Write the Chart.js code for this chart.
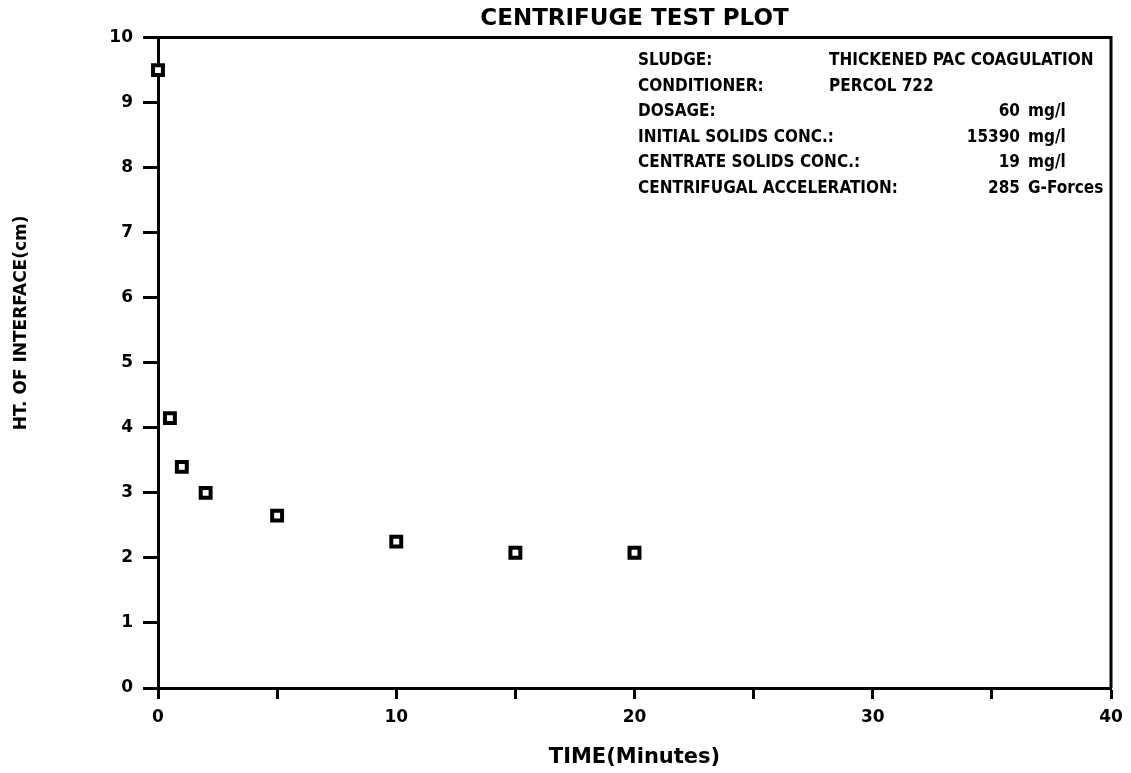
<!DOCTYPE html>
<html>
<head>
<meta charset="utf-8">
<title>Centrifuge Test Plot</title>
<script src="https://cdn.jsdelivr.net/npm/chart.js@4/dist/chart.umd.min.js"></script>
<style>
  html, body { margin: 0; padding: 0; background: #fff; }
  canvas { display: block; }
</style>
</head>
<body>
<canvas id="centrifugeChart" width="1131" height="773"></canvas>
<script>
// Interface height readings over spin time
const timeMinutes = [0, 0.5, 1, 2, 5, 10, 15, 20];
const interfaceHeight = [9.5, 4.15, 3.4, 3.0, 2.65, 2.25, 2.08, 2.08];

// Run conditions printed in the upper right
const infoLabels = ['SLUDGE:', 'CONDITIONER:', 'DOSAGE:', 'INITIAL SOLIDS CONC.:', 'CENTRATE SOLIDS CONC.:', 'CENTRIFUGAL ACCELERATION:'];
const infoText = ['THICKENED PAC COAGULATION', 'PERCOL 722', '', '', '', ''];
const infoNumbers = ['', '', '60', '15390', '19', '285'];
const infoUnits = ['', '', 'mg/l', 'mg/l', 'mg/l', 'G-Forces'];

const yAxisTitle = 'HT. OF INTERFACE(cm)';

const boldFont = "'DejaVu Sans', Verdana, sans-serif";
const narrowFont = "'DejaVu Sans Condensed', 'Liberation Sans Narrow', sans-serif";

Chart.defaults.color = '#000';

// Top and right edges of the plot box, run-condition block and y label
const plotDecor = {
  id: 'plotDecor',
  afterDraw(chart) {
    const { ctx, chartArea } = chart;
    const { left, right, top, bottom } = chartArea;
    ctx.save();
    ctx.strokeStyle = '#000';
    ctx.lineWidth = 3;
    ctx.beginPath();
    ctx.moveTo(left, top);
    ctx.lineTo(right, top);
    ctx.lineTo(right, bottom);
    ctx.stroke();

    ctx.fillStyle = '#000';
    ctx.textBaseline = 'middle';
    ctx.font = 'bold 17px ' + narrowFont;
    const colLabel = left + 480;
    const colText = left + 671;
    const colNumber = left + 862;
    for (let i = 0; i < infoLabels.length; i++) {
      const y = top + 23 + i * 25.5;
      ctx.textAlign = 'left';
      ctx.fillText(infoLabels[i], colLabel, y);
      if (infoText[i]) ctx.fillText(infoText[i], colText, y);
      if (infoUnits[i]) ctx.fillText(infoUnits[i], colNumber + 8, y);
      if (infoNumbers[i]) {
        ctx.textAlign = 'right';
        ctx.fillText(infoNumbers[i], colNumber, y);
      }
    }

    ctx.translate(22, top + (bottom - top) / 2 - 40);
    ctx.rotate(-Math.PI / 2);
    ctx.textAlign = 'center';
    ctx.font = 'bold 17px ' + boldFont;
    ctx.fillText(yAxisTitle, 0, 0);
    ctx.restore();
  }
};

new Chart(document.getElementById('centrifugeChart'), {
  type: 'scatter',
  data: {
    datasets: [{
      label: 'Interface height',
      data: timeMinutes.map((t, i) => ({ x: t, y: interfaceHeight[i] })),
      pointStyle: 'rect',
      pointRadius: 7,
      pointBorderWidth: 4,
      pointBorderColor: '#000',
      pointBackgroundColor: '#fff'
    }]
  },
  options: {
    responsive: false,
    animation: false,
    clip: false,
    layout: { padding: { left: 0, right: 20, top: 0, bottom: 0 } },
    plugins: {
      legend: { display: false },
      tooltip: { enabled: false },
      title: {
        display: true,
        fullSize: false,
        text: 'CENTRIFUGE TEST PLOT',
        color: '#000',
        font: { family: boldFont, size: 23, weight: 'bold' },
        padding: { top: 5, bottom: 5 }
      }
    },
    scales: {
      x: {
        type: 'linear',
        min: 0,
        max: 40,
        afterFit(scale) { scale.height = 85; },
        ticks: {
          stepSize: 5,
          padding: 8,
          maxRotation: 0,
          font: { family: boldFont, size: 17, weight: 'bold' },
          callback: v => (v % 10 === 0 ? v : '')
        },
        grid: {
          drawOnChartArea: false,
          tickLength: 11,
          tickWidth: 3,
          tickColor: '#000'
        },
        border: { color: '#000', width: 3 },
        title: {
          display: true,
          text: 'TIME(Minutes)',
          font: { family: boldFont, size: 21, weight: 'bold' },
          padding: { top: 0, bottom: 3 }
        }
      },
      y: {
        min: 0,
        max: 10,
        afterFit(scale) { scale.width = 158; },
        ticks: {
          stepSize: 1,
          padding: 10,
          font: { family: boldFont, size: 17, weight: 'bold' }
        },
        grid: {
          drawOnChartArea: false,
          tickLength: 15,
          tickWidth: 3,
          tickColor: '#000'
        },
        border: { color: '#000', width: 3 }
      }
    }
  },
  plugins: [plotDecor]
});
</script>
</body>
</html>
